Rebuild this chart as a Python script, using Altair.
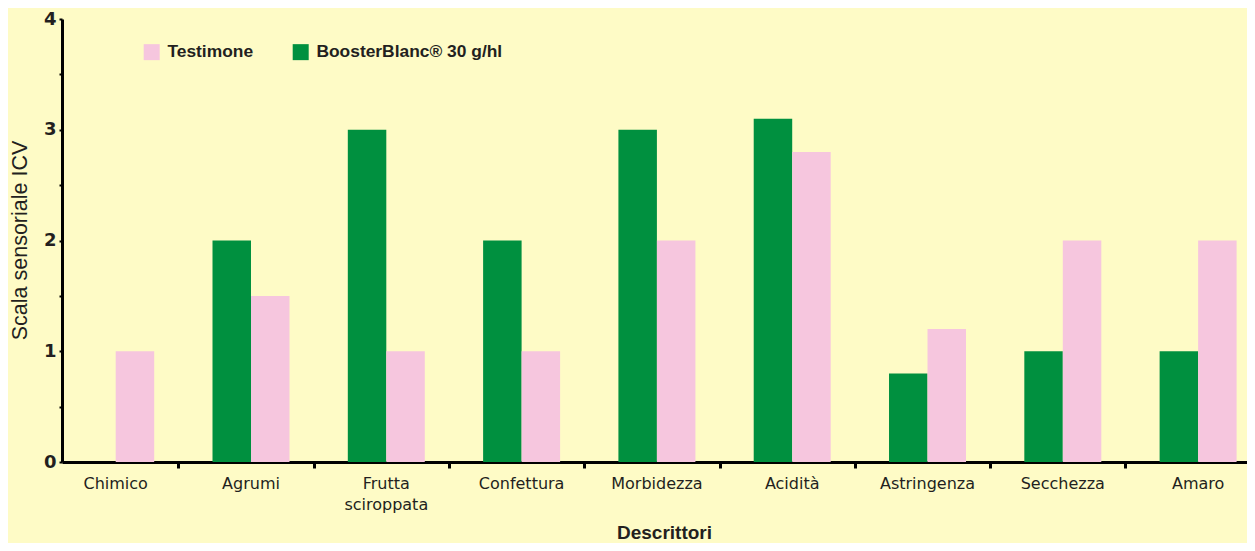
import altair as alt
import pandas as pd

categories = ["Chimico", "Agrumi", "Frutta sciroppata", "Confettura", "Morbidezza",
              "Acidità", "Astringenza", "Secchezza", "Amaro"]
booster = [0, 2, 3, 2, 3, 3.1, 0.8, 1, 1]
testimone = [1, 1.5, 1, 1, 2, 2.8, 1.2, 2, 2]
series = ["Testimone", "BoosterBlanc® 30 g/hl"]
colors = ["#F6C6DE", "#00903F"]

rows = []
for c, b, t in zip(categories, booster, testimone):
    rows.append({"cat": c, "serie": series[1], "val": b})
    rows.append({"cat": c, "serie": series[0], "val": t})
df = pd.DataFrame(rows)

xscale = alt.Scale(paddingInner=0.431, paddingOuter=0.0946, align=0.594, round=False)

bars = alt.Chart(df).mark_bar().encode(
    x=alt.X("cat:N", sort=categories, title="Descrittori", scale=xscale,
            axis=alt.Axis(orient="bottom", labelAngle=0, ticks=False, domainWidth=3, domainColor="#000",
                          labelFont="DejaVu Sans", labelFontSize=16, labelColor="#231F20",
                          labelPadding=13, labelLineHeight=21,
                          labelExpr="datum.label == 'Frutta sciroppata' ? ['Frutta', 'sciroppata'] : datum.label",
                          titleFont="Liberation Sans", titleFontSize=19, titleFontWeight="bold",
                          titleColor="#231F20", titleBaseline="top", titleY=61, titleX=602)),
    xOffset=alt.XOffset("serie:N", scale=alt.Scale(domain=[series[1], series[0]])),
    y=alt.Y("val:Q", title="Scala sensoriale ICV",
            scale=alt.Scale(domain=[0, 4], nice=False),
            axis=alt.Axis(values=[0, 0.5, 1, 1.5, 2, 2.5, 3, 3.5, 4], grid=False,
                          labelExpr="datum.value % 1 == 0 ? format(datum.value, 'd') : ''",
                          domainWidth=3, domainColor="#000", tickColor="#000", tickWidth=2, tickSize=3,
                          labelFont="DejaVu Sans", labelFontWeight="bold", labelFontSize=18,
                          labelColor="#231F20", labelPadding=3,
                          titleFont="Liberation Sans", titleFontSize=21.5, titleFontWeight="normal",
                          titleColor="#231F20", titleX=-42, titleY=221, titleBaseline="middle",
                          titleAngle=270)),
    color=alt.Color("serie:N", scale=alt.Scale(domain=series, range=colors),
                    legend=alt.Legend(title=None, orient="none", legendX=81, legendY=24,
                                      direction="horizontal", symbolType="square", symbolSize=256,
                                      symbolStrokeWidth=0, labelFont="Liberation Sans",
                                      labelFontWeight="bold", labelFontSize=17.4, labelColor="#231F20",
                                      labelOffset=7, columnPadding=38, labelLimit=400)),
)

tick_layer = alt.Chart(df).mark_tick(opacity=0).encode(
    x=alt.X("cat:N", sort=categories, scale=xscale,
            axis=alt.Axis(orient="bottom", values=categories[:-1], bandPosition=1.32,
                          labels=False, domain=False, title=None,
                          tickColor="#000", tickWidth=3, tickSize=6)),
)

chart = alt.layer(bars, tick_layer).resolve_axis(x="independent").properties(
    width=1185, height=443,
    autosize=alt.AutoSizeParams(type="none"),
    padding={"left": 54, "top": 11, "right": 0, "bottom": 81},
    background="#FEFBC6",
).configure_view(stroke=None, fill="#FEFBC6")

chart.save("out.html", embed_options={"renderer": "svg", "actions": False})
